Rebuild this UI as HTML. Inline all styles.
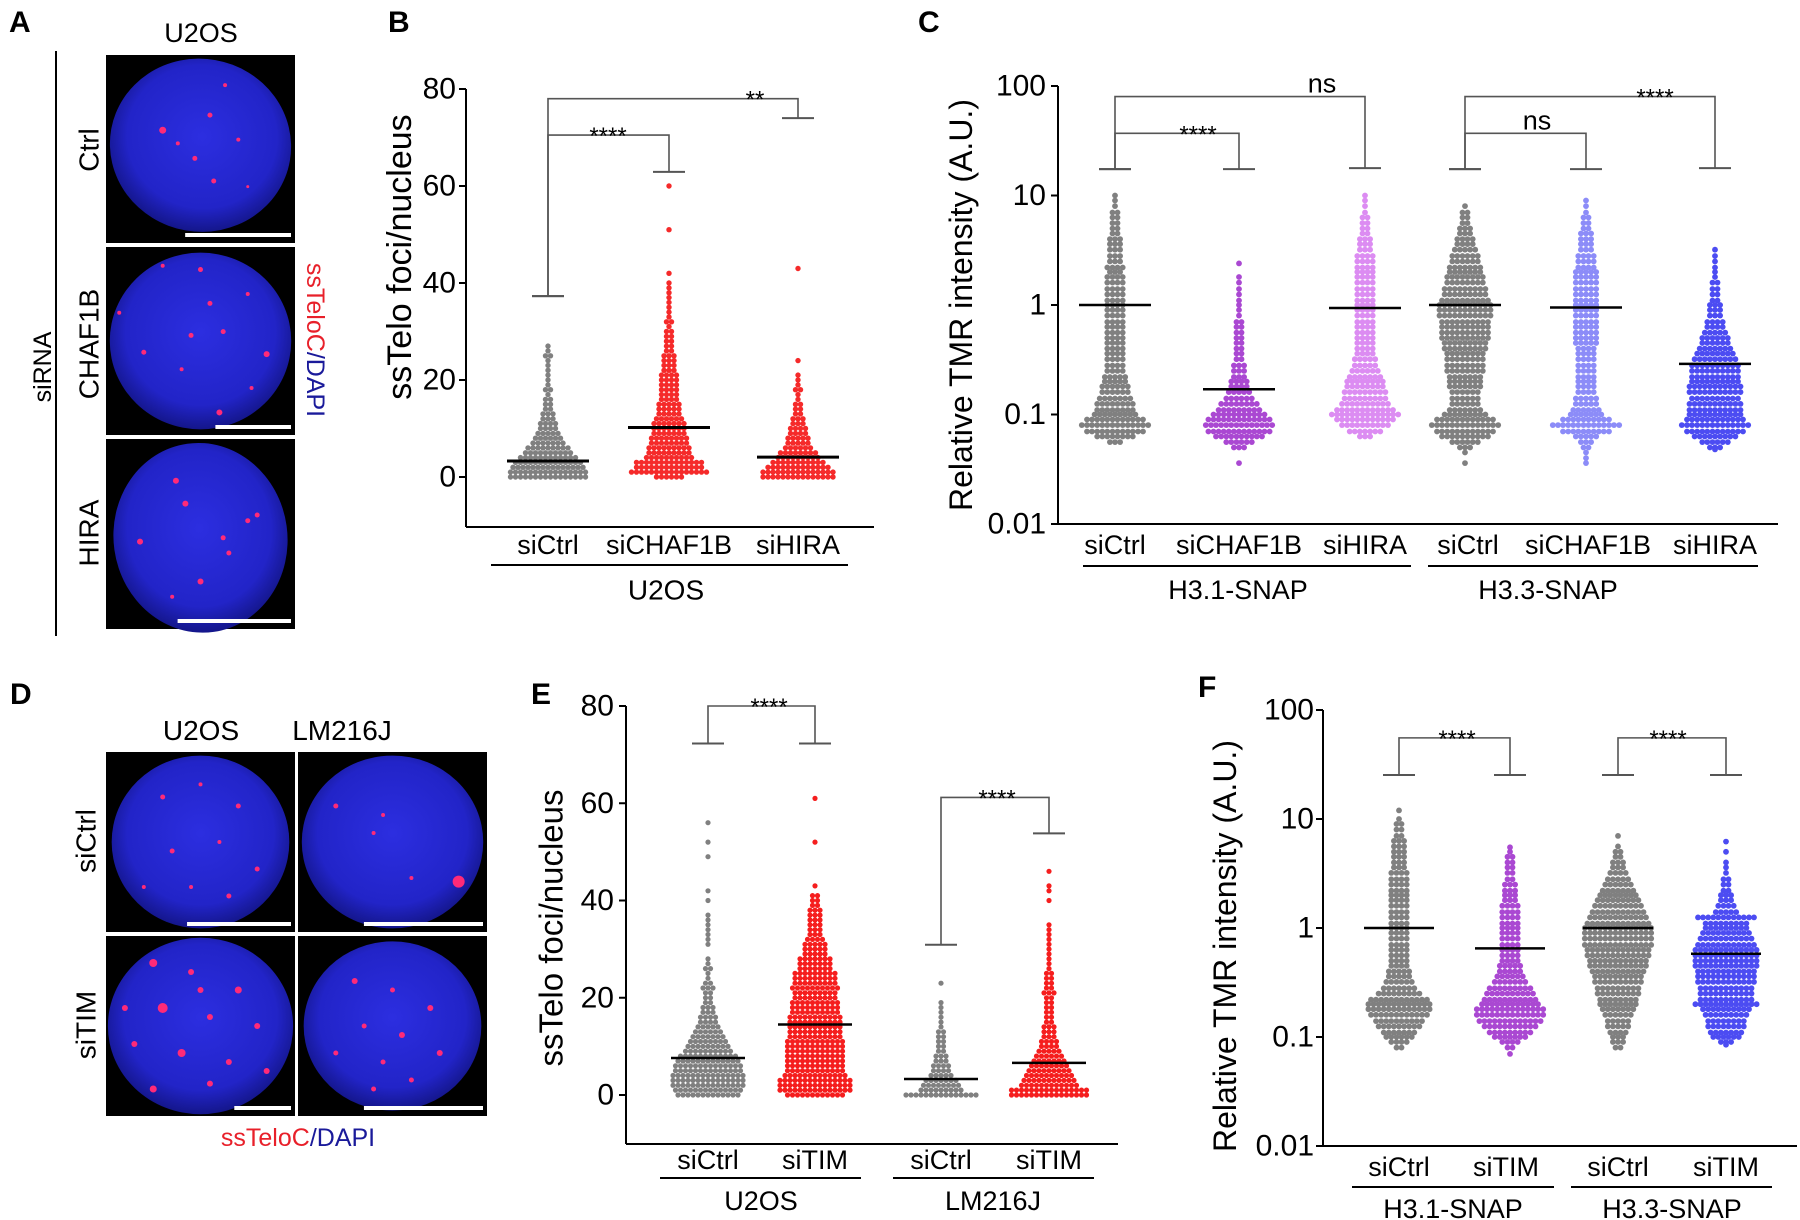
<!DOCTYPE html>
<html><head><meta charset="utf-8"><title>Figure</title>
<style>
html,body{margin:0;padding:0;background:#fff;}
svg{display:block;}
text{font-family:"Liberation Sans",Arial,sans-serif;}
</style></head>
<body>
<svg id="fig" width="1800" height="1220" viewBox="0 0 1800 1220" xmlns="http://www.w3.org/2000/svg">
<defs>
<radialGradient id="nuc" cx="50%" cy="45%" r="55%">
<stop offset="0%" stop-color="#2c2ee0"/><stop offset="75%" stop-color="#2224c8"/><stop offset="100%" stop-color="#14168a"/>
</radialGradient>
</defs>
<rect x="0" y="0" width="1800" height="1220" fill="#fff"/>

<!-- Panel A -->
<text x="9" y="32" font-size="30" font-weight="bold">A</text>
<text x="201" y="42" font-size="27" text-anchor="middle">U2OS</text>
<line x1="56" y1="51" x2="56" y2="636" stroke="#000" stroke-width="2"/>
<text transform="translate(43,367) rotate(-90)" font-size="25" text-anchor="middle" dominant-baseline="central">siRNA</text>
<text transform="translate(89,150) rotate(-90)" font-size="28" text-anchor="middle" dominant-baseline="central">Ctrl</text>
<text transform="translate(89,344) rotate(-90)" font-size="28" text-anchor="middle" dominant-baseline="central">CHAF1B</text>
<text transform="translate(89,533) rotate(-90)" font-size="28" text-anchor="middle" dominant-baseline="central">HIRA</text>
<text transform="translate(315,340) rotate(90)" font-size="25" text-anchor="middle" dominant-baseline="central"><tspan fill="#e8202a">ssTeloC</tspan><tspan fill="#1a1a9a">/DAPI</tspan></text>
<g id="imgA"></g>

<!-- Panel B -->
<text x="388" y="32" font-size="30" font-weight="bold">B</text>
<text transform="translate(400,257) rotate(-90)" font-size="34" text-anchor="middle" dominant-baseline="central">ssTelo foci/nucleus</text>
<text x="548" y="545" font-size="27" text-anchor="middle" dominant-baseline="central">siCtrl</text>
<text x="669" y="545" font-size="27" text-anchor="middle" dominant-baseline="central">siCHAF1B</text>
<text x="798" y="545" font-size="27" text-anchor="middle" dominant-baseline="central">siHIRA</text>
<line x1="491" y1="565" x2="848" y2="565" stroke="#000" stroke-width="2"/>
<text x="666" y="590" font-size="28" text-anchor="middle" dominant-baseline="central">U2OS</text>

<!-- Panel C -->
<text x="918" y="32" font-size="30" font-weight="bold">C</text>
<text transform="translate(961,305) rotate(-90)" font-size="32" text-anchor="middle" dominant-baseline="central">Relative TMR intensity (A.U.)</text>
<text x="1115" y="545" font-size="27" text-anchor="middle" dominant-baseline="central">siCtrl</text>
<text x="1239" y="545" font-size="27" text-anchor="middle" dominant-baseline="central">siCHAF1B</text>
<text x="1365" y="545" font-size="27" text-anchor="middle" dominant-baseline="central">siHIRA</text>
<text x="1468" y="545" font-size="27" text-anchor="middle" dominant-baseline="central">siCtrl</text>
<text x="1588" y="545" font-size="27" text-anchor="middle" dominant-baseline="central">siCHAF1B</text>
<text x="1715" y="545" font-size="27" text-anchor="middle" dominant-baseline="central">siHIRA</text>
<line x1="1083" y1="566" x2="1411" y2="566" stroke="#000" stroke-width="2"/>
<line x1="1428" y1="566" x2="1758" y2="566" stroke="#000" stroke-width="2"/>
<text x="1238" y="590" font-size="27" text-anchor="middle" dominant-baseline="central">H3.1-SNAP</text>
<text x="1548" y="590" font-size="27" text-anchor="middle" dominant-baseline="central">H3.3-SNAP</text>

<!-- Panel D -->
<text x="10" y="704" font-size="30" font-weight="bold">D</text>
<text x="201" y="740" font-size="28" text-anchor="middle">U2OS</text>
<text x="342" y="740" font-size="28" text-anchor="middle">LM216J</text>
<text transform="translate(86,841) rotate(-90)" font-size="28" text-anchor="middle" dominant-baseline="central">siCtrl</text>
<text transform="translate(86,1025) rotate(-90)" font-size="28" text-anchor="middle" dominant-baseline="central">siTIM</text>
<text x="298" y="1146" font-size="25" text-anchor="middle"><tspan fill="#e8202a">ssTeloC</tspan><tspan fill="#1a1a9a">/DAPI</tspan></text>
<g id="imgD"></g>

<!-- Panel E -->
<text x="531" y="704" font-size="30" font-weight="bold">E</text>
<text transform="translate(551,928) rotate(-90)" font-size="33" text-anchor="middle" dominant-baseline="central">ssTelo foci/nucleus</text>
<text x="708" y="1160" font-size="27" text-anchor="middle" dominant-baseline="central">siCtrl</text>
<text x="815" y="1160" font-size="27" text-anchor="middle" dominant-baseline="central">siTIM</text>
<text x="941" y="1160" font-size="27" text-anchor="middle" dominant-baseline="central">siCtrl</text>
<text x="1049" y="1160" font-size="27" text-anchor="middle" dominant-baseline="central">siTIM</text>
<line x1="660" y1="1178" x2="861" y2="1178" stroke="#000" stroke-width="2"/>
<line x1="893" y1="1178" x2="1094" y2="1178" stroke="#000" stroke-width="2"/>
<text x="761" y="1201" font-size="27" text-anchor="middle" dominant-baseline="central">U2OS</text>
<text x="993" y="1201" font-size="27" text-anchor="middle" dominant-baseline="central">LM216J</text>

<!-- Panel F -->
<text x="1198" y="697" font-size="30" font-weight="bold">F</text>
<text transform="translate(1225,946) rotate(-90)" font-size="32" text-anchor="middle" dominant-baseline="central">Relative TMR intensity (A.U.)</text>
<text x="1399" y="1167" font-size="27" text-anchor="middle" dominant-baseline="central">siCtrl</text>
<text x="1506" y="1167" font-size="27" text-anchor="middle" dominant-baseline="central">siTIM</text>
<text x="1618" y="1167" font-size="27" text-anchor="middle" dominant-baseline="central">siCtrl</text>
<text x="1726" y="1167" font-size="27" text-anchor="middle" dominant-baseline="central">siTIM</text>
<line x1="1352" y1="1187" x2="1554" y2="1187" stroke="#000" stroke-width="2"/>
<line x1="1571" y1="1187" x2="1772" y2="1187" stroke="#000" stroke-width="2"/>
<text x="1453" y="1209" font-size="27" text-anchor="middle" dominant-baseline="central">H3.1-SNAP</text>
<text x="1672" y="1209" font-size="27" text-anchor="middle" dominant-baseline="central">H3.3-SNAP</text>
</svg>

<script>
// ---------------- DATA ----------------
const linTicks = [0, 20, 40, 60, 80];
const logTicks = [0.01, 0.1, 1, 10, 100];
const logTickLabels = ["0.01", "0.1", "1", "10", "100"];

// Panel B: [value, number of dots at that value]
const bCategories = ["siCtrl", "siCHAF1B", "siHIRA"];
const bMeans = [3.3, 10.2, 4.1];
const bCtrl = [[0,16],[1,16],[2,15],[3,14],[4,12],[5,10],[6,9],[7,7],[8,6],[9,5],[10,4],[11,4],[12,3],[13,3],[14,2],[15,2],[16,2],[17,1],[18,2],[19,1],[20,1],[21,1],[22,1],[23,1],[24,1],[25,2],[26,1],[27,1]];
const bChaf = [[0,6],[1,16],[2,14],[3,14],[4,10],[5,9],[6,9],[7,8],[8,8],[9,7],[10,7],[11,7],[12,6],[13,5],[14,5],[15,5],[16,4],[17,4],[18,4],[19,4],[20,4],[21,4],[22,3],[23,3],[24,3],[25,3],[26,2],[27,2],[28,2],[29,2],[30,2],[31,1],[32,2],[33,1],[34,1],[35,1],[36,1],[37,1],[38,1],[39,1],[40,1],[42,1],[51,1],[60,1]];
const bHira = [[0,15],[1,15],[2,13],[3,11],[4,9],[5,8],[6,6],[7,5],[8,5],[9,4],[10,4],[11,3],[12,3],[13,2],[14,2],[15,2],[16,1],[17,1],[18,2],[19,1],[20,1],[21,1],[24,1],[43,1]];

// Panel C
const cCategories = ["siCtrl","siCHAF1B","siHIRA","siCtrl","siCHAF1B","siHIRA"];
const cMeans = [1, 0.17, 0.94, 1, 0.95, 0.29];
const c31Ctrl = [[0.056,3],[0.063,8],[0.07,12],[0.08,14],[0.09,12],[0.1,9],[0.11,8],[0.125,8],[0.14,7],[0.16,6],[0.18,6],[0.2,5],[0.22,5],[0.25,4],[0.28,4],[0.32,4],[0.36,4],[0.4,4],[0.45,4],[0.5,4],[0.56,4],[0.63,4],[0.7,4],[0.8,4],[0.9,4],[1,4],[1.1,4],[1.25,4],[1.4,4],[1.6,4],[1.8,4],[2,3],[2.2,4],[2.5,3],[2.8,3],[3.2,3],[3.6,3],[4,3],[4.5,2],[5,2],[5.6,2],[6.3,2],[7,2],[8,1],[9,1],[10,1]];
const c31Chaf = [[0.036,1],[0.05,3],[0.056,6],[0.063,10],[0.07,13],[0.08,14],[0.09,13],[0.1,11],[0.11,9],[0.125,8],[0.14,6],[0.16,5],[0.18,4],[0.2,4],[0.22,3],[0.25,3],[0.28,3],[0.32,2],[0.36,2],[0.4,2],[0.45,2],[0.5,2],[0.56,2],[0.63,2],[0.7,2],[0.8,1],[0.9,1],[1,1],[1.1,1],[1.25,1],[1.4,1],[1.6,1],[1.8,1],[2.4,1]];
const c31Hira = [[0.063,3],[0.07,7],[0.08,10],[0.09,12],[0.1,14],[0.11,12],[0.125,10],[0.14,9],[0.16,9],[0.18,8],[0.2,8],[0.22,7],[0.25,6],[0.28,5],[0.32,5],[0.36,4],[0.4,4],[0.45,4],[0.5,4],[0.56,4],[0.63,4],[0.7,4],[0.8,4],[0.9,4],[1,4],[1.1,4],[1.25,4],[1.4,4],[1.6,4],[1.8,4],[2,4],[2.2,4],[2.5,4],[2.8,4],[3.2,3],[3.6,3],[4,3],[4.5,2],[5,2],[5.6,2],[6.3,2],[7,1],[8,1],[9,1],[10,1]];
const c33Ctrl = [[0.036,1],[0.045,1],[0.05,3],[0.056,6],[0.063,10],[0.07,12],[0.08,14],[0.09,12],[0.1,9],[0.11,7],[0.125,6],[0.14,6],[0.16,6],[0.18,7],[0.2,7],[0.22,7],[0.25,8],[0.28,8],[0.32,8],[0.36,8],[0.4,9],[0.45,9],[0.5,10],[0.56,10],[0.63,10],[0.7,10],[0.8,11],[0.9,11],[1,11],[1.1,10],[1.25,9],[1.4,9],[1.6,8],[1.8,8],[2,7],[2.2,7],[2.5,6],[2.8,6],[3.2,5],[3.6,4],[4,4],[4.5,3],[5,3],[5.6,2],[6.3,2],[7,2],[8,1]];
const c33Chaf = [[0.036,1],[0.04,1],[0.045,1],[0.05,2],[0.056,3],[0.063,5],[0.07,10],[0.08,14],[0.09,10],[0.1,7],[0.11,6],[0.125,5],[0.14,5],[0.16,4],[0.18,4],[0.2,4],[0.22,4],[0.25,4],[0.28,4],[0.32,4],[0.36,4],[0.4,4],[0.45,5],[0.5,5],[0.56,5],[0.63,5],[0.7,5],[0.8,5],[0.9,5],[1,5],[1.1,5],[1.25,5],[1.4,5],[1.6,5],[1.8,5],[2,5],[2.2,4],[2.5,4],[2.8,4],[3.2,3],[3.6,3],[4,3],[4.5,3],[5,2],[5.6,2],[6.3,2],[7,1],[8,1],[9,1]];
const c33Hira = [[0.048,1],[0.05,3],[0.056,6],[0.063,9],[0.07,12],[0.08,14],[0.09,12],[0.1,11],[0.11,11],[0.125,11],[0.14,10],[0.16,11],[0.18,11],[0.2,10],[0.22,10],[0.25,10],[0.28,10],[0.32,9],[0.36,8],[0.4,7],[0.45,6],[0.5,6],[0.56,5],[0.63,4],[0.7,4],[0.8,3],[0.9,3],[1,3],[1.1,2],[1.25,2],[1.4,2],[1.6,2],[1.8,1],[2,1],[2.2,1],[2.5,1],[2.8,1],[3.2,1]];

// Panel E
const eCategories = ["siCtrl","siTIM","siCtrl","siTIM"];
const eMeans = [7.6, 14.5, 3.3, 6.6];
const eU2Ctrl = [[0,13],[1,14],[2,15],[3,15],[4,15],[5,14],[6,14],[7,13],[8,12],[9,10],[10,9],[11,8],[12,7],[13,6],[14,5],[15,4],[16,4],[17,3],[18,3],[19,2],[20,2],[21,2],[22,3],[23,2],[24,1],[25,1],[26,2],[27,1],[28,1],[31,1],[32,1],[33,1],[34,1],[35,1],[36,1],[37,1],[40,1],[42,1],[49,1],[52,1],[56,1]];
const eU2Tim = [[0,12],[1,15],[2,15],[3,15],[4,13],[5,12],[6,12],[7,12],[8,12],[9,12],[10,12],[11,12],[12,11],[13,11],[14,11],[15,11],[16,11],[17,10],[18,10],[19,10],[20,9],[21,9],[22,10],[23,9],[24,9],[25,9],[26,7],[27,7],[28,7],[29,5],[30,5],[31,5],[32,4],[33,3],[34,3],[35,3],[36,3],[37,3],[38,3],[39,2],[40,2],[41,2],[43,1],[52,1],[61,1]];
const eLmCtrl = [[0,15],[1,9],[2,8],[3,7],[4,5],[5,4],[6,4],[7,3],[8,3],[9,2],[10,2],[11,2],[12,2],[13,2],[14,1],[15,1],[16,1],[17,1],[18,1],[19,1],[23,1]];
const eLmTim = [[0,16],[1,16],[2,12],[3,11],[4,10],[5,9],[6,8],[7,7],[8,6],[9,5],[10,4],[11,4],[12,3],[13,3],[14,3],[15,2],[16,2],[17,2],[18,2],[19,2],[20,2],[21,3],[22,2],[23,2],[24,2],[25,2],[26,1],[27,1],[28,1],[29,1],[30,1],[31,1],[32,1],[33,1],[34,1],[35,1],[40,1],[42,1],[43,1],[46,1]];

// Panel F
const fCategories = ["siCtrl","siTIM","siCtrl","siTIM"];
const fMeans = [1, 0.65, 1, 0.58];
const f31Ctrl = [[0.08,2],[0.09,4],[0.1,6],[0.11,7],[0.125,9],[0.14,10],[0.16,12],[0.18,13],[0.2,13],[0.22,12],[0.25,9],[0.28,7],[0.32,6],[0.36,5],[0.4,5],[0.45,4],[0.5,4],[0.56,4],[0.63,4],[0.7,4],[0.8,4],[0.9,4],[1,4],[1.1,4],[1.25,4],[1.4,4],[1.6,4],[1.8,4],[2,4],[2.2,4],[2.5,4],[2.8,4],[3.2,4],[3.6,3],[4,3],[4.5,3],[5,3],[5.6,3],[6.3,3],[7,2],[8,2],[9,2],[10,1],[12,1]];
const f31Tim = [[0.07,1],[0.08,2],[0.09,4],[0.1,7],[0.11,9],[0.125,11],[0.14,13],[0.16,14],[0.18,14],[0.2,12],[0.22,11],[0.25,10],[0.28,9],[0.32,7],[0.36,6],[0.4,5],[0.45,5],[0.5,4],[0.56,4],[0.63,4],[0.7,4],[0.8,4],[0.9,4],[1,4],[1.1,4],[1.25,4],[1.4,4],[1.6,4],[1.8,3],[2,3],[2.2,3],[2.5,3],[2.8,2],[3.2,2],[3.6,2],[4,2],[4.5,2],[5,1],[5.5,1]];
const f33Ctrl = [[0.08,2],[0.09,3],[0.1,3],[0.11,4],[0.125,5],[0.14,5],[0.16,6],[0.18,7],[0.2,8],[0.22,8],[0.25,9],[0.28,9],[0.32,10],[0.36,10],[0.4,11],[0.45,12],[0.5,12],[0.56,13],[0.63,13],[0.7,14],[0.8,14],[0.9,14],[1,14],[1.1,13],[1.25,12],[1.4,11],[1.6,10],[1.8,9],[2,8],[2.2,7],[2.5,6],[2.8,5],[3.2,4],[3.6,3],[4,3],[4.5,2],[5,2],[5.6,1],[7,1]];
const f33Tim = [[0.085,1],[0.09,3],[0.1,6],[0.11,7],[0.125,8],[0.14,8],[0.16,9],[0.18,10],[0.2,13],[0.22,11],[0.25,11],[0.28,11],[0.32,12],[0.36,12],[0.4,12],[0.45,13],[0.5,13],[0.56,13],[0.63,13],[0.7,12],[0.8,11],[0.9,10],[1,9],[1.1,9],[1.25,12],[1.4,5],[1.6,4],[1.8,3],[2,3],[2.2,2],[2.5,2],[2.8,2],[3.2,1],[3.6,1],[4,1],[5,1],[6.2,1]];

// Significance brackets: [leftValue, rightValue, topValue, label]
const bBrackets = [[37.3, 62.9, 70.5, "****"], [37.3, 74, 78, "**"]];
const cBrackets = [[17.4, 17.4, 37, "****"], [17.4, 17.8, 80, "ns"], [17.4, 17.4, 37, "ns"], [17.4, 17.8, 80, "****"]];
const eBrackets = [[72.3, 72.3, 80, "****"], [30.9, 53.8, 61.2, "****"]];
const fBrackets = [[25.3, 25.3, 55.5, "****"], [25.3, 25.3, 55.5, "****"]];

// ---------------- RENDER ----------------
const NS = 'http://www.w3.org/2000/svg';
const svg = document.getElementById('fig');
function mk(tag, attrs, parent) {
  const e = document.createElementNS(NS, tag);
  for (const k in attrs) e.setAttribute(k, attrs[k]);
  (parent || svg).appendChild(e);
  return e;
}

function linAxis(y0, pxPerUnit) { return v => y0 - v * pxPerUnit; }
function logAxis(y1, pxPerDecade) { return v => y1 - Math.log10(v) * pxPerDecade; }

function drawAxes(name, ax, ticks, labels, yFn, bottomY, xEnd, tickX) {
  const g = mk('g', {});
  
  
  const topY = yFn(ticks[ticks.length - 1]);
  const yl = mk('line', {x1: ax, y1: topY, x2: ax, y2: bottomY, stroke: '#000', 'stroke-width': 2}, g);
  
  
  const xl = mk('line', {x1: ax, y1: bottomY, x2: xEnd, y2: bottomY, stroke: '#000', 'stroke-width': 2}, g);
  
  
  ticks.forEach((t, i) => {
    const y = yFn(t);
    const tl = mk('line', {x1: ax - 7, y1: y, x2: ax, y2: y, stroke: '#000', 'stroke-width': 2}, g);
    
    
    const tx = mk('text', {x: tickX, y: y, 'font-size': 30, 'text-anchor': 'end', 'dominant-baseline': 'central'}, g);
    tx.textContent = labels[i];
    
    
  });
}

function drawSwarm(name, cx, yFn, pairs, color, spacing, r) {
  const g = mk('g', {fill: color});
  
  
  pairs.forEach(([v, n]) => {
    const y = yFn(v);
    for (let i = 0; i < n; i++) {
      const x = cx + (i - (n - 1) / 2) * spacing;
      const c = mk('circle', {cx: x.toFixed(1), cy: y.toFixed(1), r: r}, g);
      
      
    }
  });
}

function drawMean(name, cx, yFn, v, hw, w) {
  const l = mk('line', {x1: cx - hw, y1: yFn(v), x2: cx + hw, y2: yFn(v), stroke: '#000', 'stroke-width': w});
  
  
}

function drawBracket(name, x1, x2, yFn, br, labelX) {
  const [lv, rv, tv, lab] = br;
  const g = mk('g', {stroke: '#555', 'stroke-width': 1.6, fill: 'none'});
  
  
  const yt = yFn(tv), yl = yFn(lv), yr = yFn(rv);
  const p = mk('path', {d: `M${x1},${yl}V${yt}H${x2}V${yr}`}, g);
  
  
  const c1 = mk('line', {x1: x1 - 16, y1: yl, x2: x1 + 16, y2: yl, 'stroke-width': 2}, g);
  
  
  const c2 = mk('line', {x1: x2 - 16, y1: yr, x2: x2 + 16, y2: yr, 'stroke-width': 2}, g);
  
  
  const isStar = lab.indexOf('*') >= 0;
  const t = mk('text', {x: labelX, y: isStar ? yt + 9 : yt - 4, 'font-size': isStar ? 24 : 27, 'text-anchor': 'middle', fill: '#000', stroke: 'none'});
  t.textContent = lab;
  
  
}

// ---- Panel B ----
const bY = linAxis(477, 4.85);
drawAxes('panel-b', 466, linTicks, linTicks.map(String), bY, 527, 874, 456);
const bX = [548, 669, 798];
drawSwarm('panel-b-sictrl-dots', bX[0], bY, bCtrl, '#808080', 5, 2.7);
drawSwarm('panel-b-sichaf1b-dots', bX[1], bY, bChaf, '#f52a2a', 5, 2.7);
drawSwarm('panel-b-sihira-dots', bX[2], bY, bHira, '#f52a2a', 5, 2.7);
bMeans.forEach((m, i) => drawMean('panel-b-mean-' + i, bX[i], bY, m, 41, 3));
drawBracket('panel-b-bracket-chaf1b', bX[0], bX[1], bY, bBrackets[0], 608);
drawBracket('panel-b-bracket-hira', bX[0], bX[2], bY, bBrackets[1], 755);

// ---- Panel C ----
const cY = logAxis(305, 109.5);
drawAxes('panel-c', 1058, logTicks, logTickLabels, cY, 524, 1778, 1046);
const cX = [1115, 1239, 1365, 1465, 1586, 1715];
const cCols = ['#808080', '#aa48d2', '#dc8cf2', '#808080', '#8c8cf8', '#4c4cf2'];
[c31Ctrl, c31Chaf, c31Hira, c33Ctrl, c33Chaf, c33Hira].forEach((d, i) =>
  drawSwarm('panel-c-dots-' + i, cX[i], cY, d, cCols[i], 5.1, 2.9));
cMeans.forEach((m, i) => drawMean('panel-c-mean-' + i, cX[i], cY, m, 36, 2.5));
drawBracket('panel-c-bracket-h31-chaf1b', cX[0], cX[1], cY, cBrackets[0], 1198);
drawBracket('panel-c-bracket-h31-hira', cX[0], cX[2], cY, cBrackets[1], 1322);
drawBracket('panel-c-bracket-h33-chaf1b', cX[3], cX[4], cY, cBrackets[2], 1537);
drawBracket('panel-c-bracket-h33-hira', cX[3], cX[5], cY, cBrackets[3], 1655);

// ---- Panel E ----
const eY = linAxis(1095, 4.8625);
drawAxes('panel-e', 626, linTicks, linTicks.map(String), eY, 1144, 1118, 614);
const eX = [708, 815, 941, 1049];
drawSwarm('panel-e-u2os-sictrl-dots', eX[0], eY, eU2Ctrl, '#808080', 5, 2.6);
drawSwarm('panel-e-u2os-sitim-dots', eX[1], eY, eU2Tim, '#f51e1e', 5, 2.6);
drawSwarm('panel-e-lm216j-sictrl-dots', eX[2], eY, eLmCtrl, '#808080', 5, 2.6);
drawSwarm('panel-e-lm216j-sitim-dots', eX[3], eY, eLmTim, '#f51e1e', 5, 2.6);
eMeans.forEach((m, i) => drawMean('panel-e-mean-' + i, eX[i], eY, m, 37, 2.5));
drawBracket('panel-e-bracket-u2os', eX[0], eX[1], eY, eBrackets[0], 769);
drawBracket('panel-e-bracket-lm216j', eX[2], eX[3], eY, eBrackets[1], 997);

// ---- Panel F ----
const fY = logAxis(928, 109);
drawAxes('panel-f', 1323, logTicks, logTickLabels, fY, 1146, 1797, 1314);
const fX = [1399, 1510, 1618, 1726];
const fCols = ['#808080', '#aa48d2', '#808080', '#4c4cf2'];
[f31Ctrl, f31Tim, f33Ctrl, f33Tim].forEach((d, i) =>
  drawSwarm('panel-f-dots-' + i, fX[i], fY, d, fCols[i], 5.1, 2.9));
fMeans.forEach((m, i) => drawMean('panel-f-mean-' + i, fX[i], fY, m, 35, 2.5));
drawBracket('panel-f-bracket-h31', fX[0], fX[1], fY, fBrackets[0], 1457);
drawBracket('panel-f-bracket-h33', fX[2], fX[3], fY, fBrackets[1], 1668);

// ---- Microscopy images (illustrative) ----
function nucleus(parent, name, x, y, w, h, nuc, foci, bar) {
  const g = mk('g', {}, parent);
  
  
  const bg = mk('rect', {x: x, y: y, width: w, height: h, fill: '#000'}, g);
  
  
  const e = mk('ellipse', {cx: x + nuc[0] * w, cy: y + nuc[1] * h, rx: nuc[2] * w, ry: nuc[3] * h, fill: 'url(#nuc)', transform: `rotate(${nuc[4]} ${x + nuc[0] * w} ${y + nuc[1] * h})`}, g);
  
  
  foci.forEach(f => {
    const c = mk('circle', {cx: x + f[0] * w, cy: y + f[1] * h, r: f[2], fill: '#ff2a78'}, g);
    
    
  });
  const sb = mk('line', {x1: x + w - 4 - bar * w, y1: y + h - 8, x2: x + w - 4, y2: y + h - 8, stroke: '#fff', 'stroke-width': 4}, g);
  
  
}
const gA = document.getElementById('imgA');
nucleus(gA, 'image-ctrl', 106, 55, 189, 188, [0.5, 0.48, 0.48, 0.46, 10], [[0.3,0.4,3.5],[0.55,0.32,2.5],[0.47,0.55,2.5],[0.57,0.67,2.5],[0.38,0.47,2],[0.7,0.45,2],[0.63,0.16,2],[0.75,0.7,1.5]], 0.56);
nucleus(gA, 'image-chaf1b', 106, 247, 189, 188, [0.5, 0.5, 0.48, 0.47, 0], [[0.3,0.1,2],[0.5,0.12,2.5],[0.55,0.3,2.5],[0.75,0.25,2],[0.45,0.47,2.5],[0.62,0.45,2.5],[0.85,0.57,3],[0.2,0.56,2.5],[0.4,0.65,2],[0.77,0.75,2],[0.6,0.88,3],[0.07,0.35,2]], 0.4);
nucleus(gA, 'image-hira', 106, 439, 189, 190, [0.5, 0.52, 0.46, 0.5, -8], [[0.37,0.22,3],[0.42,0.34,3],[0.75,0.43,2.5],[0.8,0.4,2.5],[0.18,0.54,3],[0.62,0.52,2.5],[0.65,0.6,2.5],[0.5,0.75,3],[0.35,0.83,2]], 0.6);
const gD = document.getElementById('imgD');
nucleus(gD, 'image-u2os-sictrl', 106, 752, 189, 180, [0.5, 0.5, 0.47, 0.48, 0], [[0.3,0.25,2.5],[0.5,0.18,2],[0.7,0.3,2.5],[0.35,0.55,2.5],[0.6,0.5,2],[0.8,0.65,2.5],[0.45,0.75,2],[0.2,0.75,2],[0.65,0.8,2.5]], 0.55);
nucleus(gD, 'image-lm216j-sictrl', 298, 752, 189, 180, [0.5, 0.5, 0.48, 0.48, 0], [[0.2,0.3,2.5],[0.45,0.35,2],[0.4,0.45,2],[0.85,0.72,6],[0.6,0.7,2]], 0.63);
nucleus(gD, 'image-u2os-sitim', 106, 936, 189, 180, [0.5, 0.5, 0.49, 0.49, 0], [[0.25,0.15,4],[0.45,0.2,3],[0.7,0.3,3.5],[0.3,0.4,5],[0.55,0.45,3],[0.8,0.5,3],[0.15,0.6,3],[0.4,0.65,4],[0.65,0.7,3],[0.25,0.85,3.5],[0.55,0.82,3],[0.85,0.75,3],[0.5,0.3,3],[0.1,0.4,3]], 0.3);
nucleus(gD, 'image-lm216j-sitim', 298, 936, 189, 180, [0.5, 0.5, 0.47, 0.47, 0], [[0.3,0.25,3],[0.5,0.3,2.5],[0.7,0.4,3],[0.35,0.5,2.5],[0.55,0.55,3],[0.2,0.65,2.5],[0.45,0.7,2.5],[0.75,0.65,3],[0.6,0.8,2.5],[0.4,0.85,2.5]], 0.63);
</script>
</body></html>
